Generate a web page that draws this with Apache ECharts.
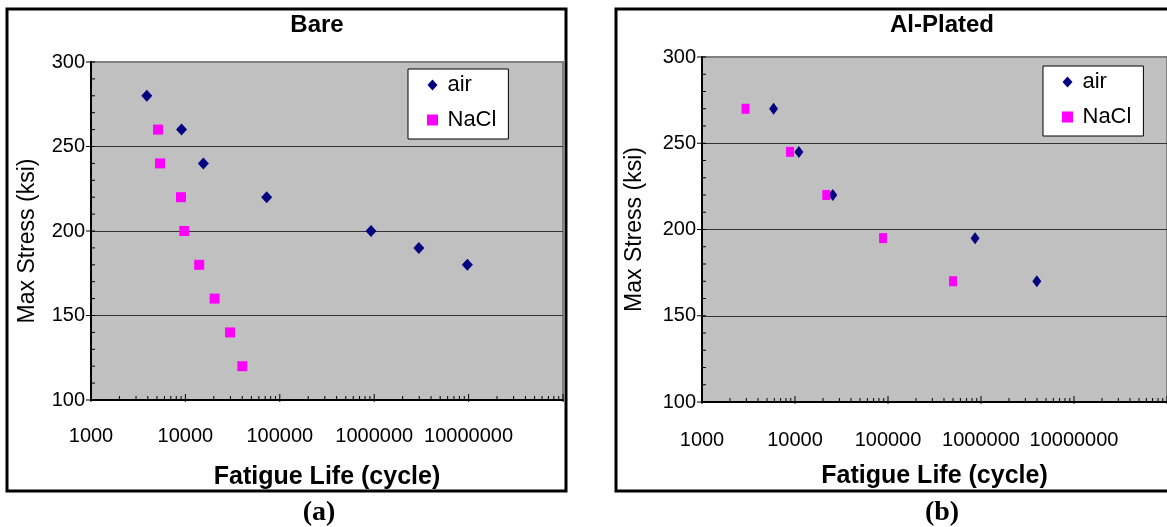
<!DOCTYPE html>
<html>
<head>
<meta charset="utf-8">
<script src="https://cdn.jsdelivr.net/npm/echarts@6/dist/echarts.min.js"></script>
<style>
html,body{margin:0;padding:0;background:#fff;}
#c{width:1167px;height:527px;}
</style>
</head>
<body>
<div id="c"></div>
<script>
// ---- data ----
const seriesNames = ['air', 'NaCl'];
const panelTitles = ['Bare', 'Al-Plated'];
const captions = ['(a)', '(b)'];
const xTitle = 'Fatigue Life (cycle)';
const yTitle = 'Max Stress (ksi)';

const bareAirX = [3900, 9100, 15500, 72600, 925000, 2970000, 9700000];
const bareAirY = [280, 260, 240, 220, 200, 190, 180];
const bareNaclX = [5130, 5380, 8980, 9730, 14000, 20400, 29700, 40100];
const bareNaclY = [260, 240, 220, 200, 180, 160, 140, 120];

const platedAirX = [5880, 11000, 25500, 863000, 3980000];
const platedAirY = [270, 245, 220, 195, 170];
const platedNaclX = [2940, 8850, 21700, 88500, 500000];
const platedNaclY = [270, 245, 220, 195, 170];

const xMin = 1000, xMax = 100000000;
const yMin = 100, yMax = 300, yStep = 50;
const xMajorTicks = [1000, 10000, 100000, 1000000, 10000000, 100000000];
const xMinorMult = [2, 3, 4, 5, 6, 7, 8, 9];
const yMinorTicks = [110,120,130,140,160,170,180,190,210,220,230,240,260,270,280,290];
const yMajorTicks = [100, 150, 200, 250, 300];

// ---- helpers ----
function pairs(xs, ys) { return xs.map((x, i) => [x, ys[i]]); }

const xTickData = [];
xMajorTicks.forEach(v => xTickData.push([v, yMin, 1]));
xMajorTicks.slice(0, -1).forEach(d => xMinorMult.forEach(m => xTickData.push([d * m, yMin, 0])));
const yTickData = [];
yMajorTicks.forEach(v => yTickData.push([xMin, v, 1]));
yMinorTicks.forEach(v => yTickData.push([xMin, v, 0]));

function xTickRender(params, api) {
  const p = api.coord([api.value(0), api.value(1)]);
  const major = api.value(2) === 1;
  return {type: 'line', shape: {x1: p[0], y1: p[1] + (major ? 2 : 0), x2: p[0], y2: p[1] - (major ? 6 : 4)},
          style: {stroke: '#000', lineWidth: 1}};
}
function yTickRender(params, api) {
  const p = api.coord([api.value(0), api.value(1)]);
  const major = api.value(2) === 1;
  return {type: 'line', shape: {x1: p[0] - (major ? 5 : 0), y1: p[1], x2: p[0] + 4, y2: p[1]},
          style: {stroke: '#000', lineWidth: 1}};
}

const FONT = '"Liberation Sans", Arial, sans-serif';
const grids = [
  {left: 91, top: 62, width: 472, height: 338},
  {left: 702, top: 57, width: 470, height: 345}
];
const labelMargins = [26, 28];
const xNameGaps = [65, 62];
const yNameGaps = [52, 56];
const yNamePads = [[0, 20, 0, 0], [0, 0, 0, 0]];
const sizes = [
  {air: [11, 12], nacl: [10, 10]},
  {air: [9, 12], nacl: [8, 10]}
];
const panelData = [
  {air: pairs(bareAirX, bareAirY), nacl: pairs(bareNaclX, bareNaclY)},
  {air: pairs(platedAirX, platedAirY), nacl: pairs(platedNaclX, platedNaclY)}
];
const legendPos = [{left: 408, top: 69}, {left: 1043, top: 66}];

const option = {
  animation: false,
  textStyle: {fontFamily: FONT},
  grid: grids.map(g => Object.assign({show: true, backgroundColor: '#c0c0c0', borderColor: '#808080', borderWidth: 2}, g)),
  xAxis: grids.map((g, i) => ({
    type: 'log', logBase: 10, gridIndex: i, min: xMin, max: xMax,
    name: xTitle, nameLocation: 'middle', nameGap: xNameGaps[i],
    nameTextStyle: {fontSize: 25, fontWeight: 'bold', color: '#000', fontFamily: FONT},
    axisLine: {show: true, onZero: false, lineStyle: {color: '#000', width: 2}},
    axisTick: {show: false},
    splitLine: {show: false},
    axisLabel: {fontSize: 20, color: '#000', margin: labelMargins[i], fontFamily: FONT, showMaxLabel: false,
      formatter: v => (v >= xMax * 0.999 ? '' : String(Math.round(v)))}
  })),
  yAxis: grids.map((g, i) => ({
    type: 'value', gridIndex: i, min: yMin, max: yMax, interval: yStep,
    name: yTitle, nameLocation: 'middle', nameRotate: 90, nameGap: yNameGaps[i],
    nameTextStyle: {fontSize: 23, color: '#000', fontFamily: FONT, padding: yNamePads[i]},
    axisLine: {show: true, onZero: false, lineStyle: {color: '#000', width: 2}},
    axisTick: {show: false},
    splitLine: {show: true, showMinLine: false, showMaxLine: false, lineStyle: {color: '#333', width: 1}},
    axisLabel: {fontSize: 20, color: '#000', margin: 6, fontFamily: FONT}
  })),
  legend: legendPos.map(p => ({
    left: p.left, top: p.top, orient: 'vertical',
    data: [{name: 'air', icon: 'path://M5,0L10,5.5L5,11L0,5.5Z'}, {name: 'NaCl', icon: 'path://M0,0L10,0L10,10L0,10Z'}],
    itemWidth: 20, itemHeight: 11, itemGap: 13, symbolKeepAspect: true,
    padding: [5, 12, 8, 19],
    backgroundColor: '#fff', borderColor: '#000', borderWidth: 1, borderRadius: 0,
    selectedMode: false,
    textStyle: {fontSize: 22, color: '#000', fontFamily: FONT}
  })),
  series: [],
  graphic: []
};

panelData.forEach((pd, i) => {
  option.series.push({
    name: seriesNames[0], type: 'scatter', xAxisIndex: i, yAxisIndex: i, data: pd.air,
    symbol: 'diamond', symbolSize: sizes[i].air, itemStyle: {color: '#000080', opacity: 1}, z: 5,
    emphasis: {disabled: true}
  });
  option.series.push({
    name: seriesNames[1], type: 'scatter', xAxisIndex: i, yAxisIndex: i, data: pd.nacl,
    symbol: 'rect', symbolSize: sizes[i].nacl, itemStyle: {color: '#ff00ff', opacity: 1}, z: 5,
    emphasis: {disabled: true}
  });
  option.series.push({
    name: 'xticks' + i, type: 'custom', xAxisIndex: i, yAxisIndex: i, data: xTickData,
    renderItem: xTickRender, silent: true, z: 4
  });
  option.series.push({
    name: 'yticks' + i, type: 'custom', xAxisIndex: i, yAxisIndex: i, data: yTickData,
    renderItem: yTickRender, silent: true, z: 4
  });
});

// frames, titles, captions
option.graphic.push(
  {type: 'rect', shape: {x: 7, y: 9, width: 559, height: 482}, style: {fill: null, stroke: '#000', lineWidth: 3}, z: -1},
  {type: 'rect', shape: {x: 616, y: 9, width: 600, height: 482}, style: {fill: null, stroke: '#000', lineWidth: 3}, z: -1},
  {type: 'text', x: 317, y: 25, style: {text: panelTitles[0], fontSize: 24, fontWeight: 'bold', fontFamily: FONT, fill: '#000', align: 'center', verticalAlign: 'middle'}},
  {type: 'text', x: 942, y: 25, style: {text: panelTitles[1], fontSize: 24, fontWeight: 'bold', fontFamily: FONT, fill: '#000', align: 'center', verticalAlign: 'middle'}},
  {type: 'text', x: 319, y: 513, style: {text: captions[0], fontSize: 28, fontWeight: 'bold', fontFamily: '"Liberation Serif", "Times New Roman", serif', fill: '#000', align: 'center', verticalAlign: 'middle'}},
  {type: 'text', x: 942, y: 513, style: {text: captions[1], fontSize: 28, fontWeight: 'bold', fontFamily: '"Liberation Serif", "Times New Roman", serif', fill: '#000', align: 'center', verticalAlign: 'middle'}}
);

const chart = echarts.init(document.getElementById('c'), null, {renderer: 'canvas'});
chart.setOption(option);
</script>
</body>
</html>
